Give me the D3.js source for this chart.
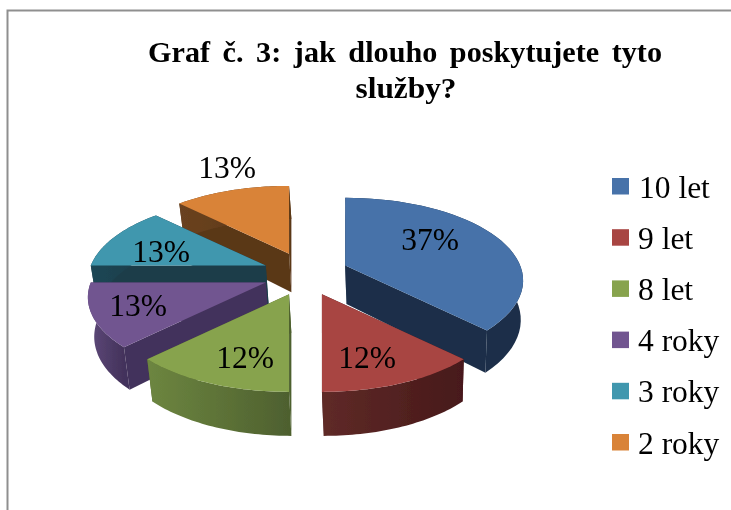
<!DOCTYPE html>
<html>
<head>
<meta charset="utf-8">
<script src="https://cdn.jsdelivr.net/npm/d3@7/dist/d3.min.js"></script>
<style>
html,body{margin:0;padding:0;background:#fff;}
svg{display:block;}
text{font-family:"Liberation Serif","Times New Roman",serif;fill:#000;}
</style>
</head>
<body>
<div id="chart"></div>
<script>
// Data
const categories = ["10 let", "9 let", "8 let", "4 roky", "3 roky", "2 roky"];
const shares = [37.5, 12.5, 12.5, 12.5, 12.5, 12.5];
const shareLabels = ["37%", "12%", "12%", "13%", "13%", "13%"];
const titleLines = ["Graf č. 3: jak dlouho poskytujete tyto", "služby?"];
// Styles
const topColors = ["#4672a9", "#a84543", "#87a34d", "#715590", "#4097ae", "#d98339"];
const wallColors = ["#1b2e48", "#47191a", "#4e602f", "#43325b", "#1b3d4a", "#5a3717"];
const rimLightColors = ["#1b2e48", "#5f2a27", "#6d8640", "#5f4a7a", "#1f4654", "#6a4220"];

const width = 731, height = 510;
const svg = d3.select("#chart").append("svg").attr("width", width).attr("height", height);
const defs = svg.append("defs");
defs.append("filter").attr("id", "soft")
  .attr("x", 0).attr("y", 0).attr("width", width).attr("height", height)
  .attr("filterUnits", "userSpaceOnUse")
  .append("feGaussianBlur").attr("stdDeviation", 0.45);

const root = svg.append("g").attr("filter", "url(#soft)");

// frame
root.append("path").attr("d", `M7.5,${height}V10.5H${width}`)
  .attr("fill", "none").attr("stroke", "#8f8f8f").attr("stroke-width", 2);

// title
root.selectAll(".title").data(titleLines).join("text").attr("class", "title")
  .attr("x", (d, i) => i ? 406 : 405)
  .attr("y", (d, i) => i ? 98 : 62)
  .attr("text-anchor", "middle")
  .attr("font-weight", "bold")
  .attr("font-size", 30)
  .attr("word-spacing", (d, i) => i ? 0 : 5)
  .attr("textLength", (d, i) => i ? 101 : 514)
  .attr("lengthAdjust", "spacingAndGlyphs")
  .text(d => d);

// 3D pie projection
const cx = 305.5, cy = 274;
const rx = 175, ry = 80, persp = 0.18;
const explodeX = 43, explodeY = 22;
const depth = d3.scaleLinear().domain([-1, 1]).range([33, 44]);

const pie = d3.pie().sort(null).value(d => d.share).startAngle(0).endAngle(2 * Math.PI);
const slices = pie(categories.map((c, i) => ({ c, i, share: shares[i] })));

function rim(a, apex) {
  const u = Math.sin(a), v = -Math.cos(a), k = 1 / (1 - persp * v);
  return { x: apex.x + rx * u * k, y: apex.y + ry * v * k, v };
}
function drop(p) {
  return { x: cx + (p.x - cx) * 0.98 + 2, y: p.y + depth(p.v) };
}
const line = d3.line().x(d => d.x).y(d => d.y);

const draw = slices.slice().sort((a, b) =>
  d3.ascending(-Math.cos((a.startAngle + a.endAngle) / 2), -Math.cos((b.startAngle + b.endAngle) / 2)) || d3.ascending(a.index === 1 ? 1 : 0, b.index === 1 ? 1 : 0));

draw.forEach(s => {
  const i = s.data.i;
  const mid = (s.startAngle + s.endAngle) / 2;
  const apex = { x: cx + explodeX * Math.sin(mid), y: cy - explodeY * Math.cos(mid), v: 0 };
  const steps = d3.range(0, 41).map(t => s.startAngle + (s.endAngle - s.startAngle) * t / 40);
  const arc = steps.map(a => rim(a, apex));
  const first = arc[0], last = arc[arc.length - 1];
  const g = root.append("g");

  const grad = defs.append("linearGradient").attr("id", "wall" + i)
    .attr("gradientUnits", "userSpaceOnUse")
    .attr("x1", d3.min(arc, d => d.x)).attr("x2", d3.max(arc, d => d.x)).attr("y1", 0).attr("y2", 0);
  grad.append("stop").attr("offset", 0).attr("stop-color", rimLightColors[i]);
  grad.append("stop").attr("offset", 1).attr("stop-color", wallColors[i]);

  [first, last].forEach(p => {
    g.append("path")
      .attr("d", line([apex, p, drop(p), drop(apex)]) + "Z")
      .attr("fill", wallColors[i]);
  });
  g.append("path")
    .attr("d", line(arc.concat(arc.map(drop).reverse())) + "Z")
    .attr("fill", `url(#wall${i})`);
  g.append("path")
    .attr("d", line([apex].concat(arc)) + "Z")
    .attr("fill", topColors[i]);
});

// data labels (layout anchors in pixels)
const labelAnchors = [[430, 250], [367, 368], [245, 368], [138, 316], [161, 262], [227, 178]];
root.selectAll(".dl").data(shareLabels).join("text").attr("class", "dl")
  .attr("x", (d, i) => labelAnchors[i][0])
  .attr("y", (d, i) => labelAnchors[i][1])
  .attr("text-anchor", "middle")
  .attr("font-size", 31.5)
  .text(d => d);

// legend
const legendY = d3.scalePoint().domain(categories).range([178, 434]);
const legend = root.selectAll(".lg").data(categories).join("g").attr("class", "lg")
  .attr("transform", d => `translate(612,${legendY(d)})`);
legend.append("rect").attr("width", 17).attr("height", 16.5).attr("fill", (d, i) => topColors[i]);
legend.append("text").attr("x", (d, i) => i ? 26 : 27).attr("y", 19.5)
  .attr("font-size", 31.5).text(d => d);
</script>
</body>
</html>
